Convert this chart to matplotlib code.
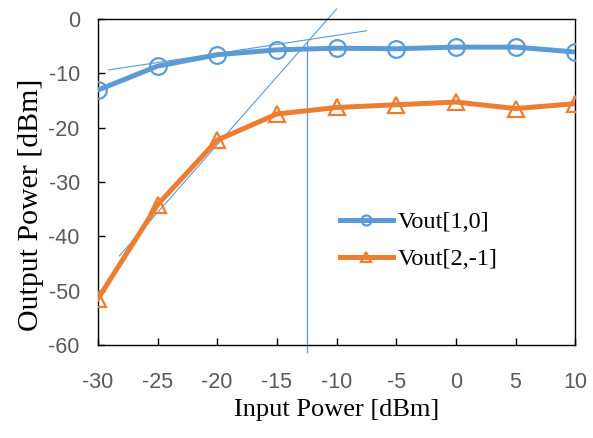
import matplotlib
matplotlib.use('Agg')
import matplotlib.pyplot as plt

plt.rcParams['axes.unicode_minus'] = False

# input power sweep [dBm]
p_in = [-30, -25, -20, -15, -10, -5, 0, 5, 10]
# output power [dBm]
vout_10 = [-13.1, -8.7, -6.6, -5.7, -5.4, -5.5, -5.2, -5.2, -6.1]
vout_2m1 = [-51.5, -34.2, -22.3, -17.5, -16.3, -15.8, -15.3, -16.5, -15.6]

# tangent (extrapolation) lines and intercept point
tan1_x = [-29.1, -7.5]
tan1_y = [-9.4, -2.2]
tan2_x = [-28.2, -10.0]
tan2_y = [-43.6, 1.8]
ip_x = -12.5
ip_y = [-4.2, -61.3]

blue = '#5B9BD5'
orange = '#ED7D31'

fig = plt.figure(figsize=(5.93, 4.38), dpi=100)
ax = fig.add_axes([0.165, 0.212, 0.805, 0.745])

ax.plot(p_in, vout_10, color=blue, lw=3.6, marker='o', ms=12,
        mfc='none', mec=blue, mew=1.6, label='Vout[1,0]', zorder=3)
ax.plot(p_in, vout_2m1, color=orange, lw=3.6, marker='^', ms=12,
        mfc='none', mec=orange, mew=1.6, label='Vout[2,-1]', zorder=3)

ax.plot(tan1_x, tan1_y, color=blue, lw=0.8, clip_on=False, zorder=2)
ax.plot(tan2_x, tan2_y, color=blue, lw=0.8, clip_on=False, zorder=2)
ax.plot([ip_x, ip_x], ip_y, color=blue, lw=0.9, clip_on=False, zorder=2)

ax.set_xlim(-30, 10)
ax.set_ylim(-60, 0)
ax.set_xticks(range(-30, 11, 5))
ax.set_yticks(range(-60, 1, 10))

for s in ax.spines.values():
    s.set_color('black')
    s.set_linewidth(1.0)

ax.tick_params(direction='in', length=5, width=1, colors='black',
               labelcolor='#595959', labelsize=15.5)
ax.tick_params(axis='x', pad=19)
ax.tick_params(axis='y', pad=13)
for lab in ax.get_xticklabels() + ax.get_yticklabels():
    lab.set_family('Liberation Sans')

ax.set_xlabel('Input Power [dBm]', family='Liberation Serif', fontsize=19)
ax.set_ylabel('Output Power [dBm]', family='Liberation Serif', fontsize=21.5)
ax.xaxis.set_label_coords(0.5, -0.165)
ax.yaxis.set_label_coords(-0.113, 0.43)

ax.legend(loc='center left', bbox_to_anchor=(0.462, 0.32), frameon=False,
          prop={'family': 'Liberation Serif', 'size': 17.5},
          handlelength=2.15, handletextpad=0.2, labelspacing=0.6, markerscale=0.6)

fig.savefig('out.png', dpi=100)
